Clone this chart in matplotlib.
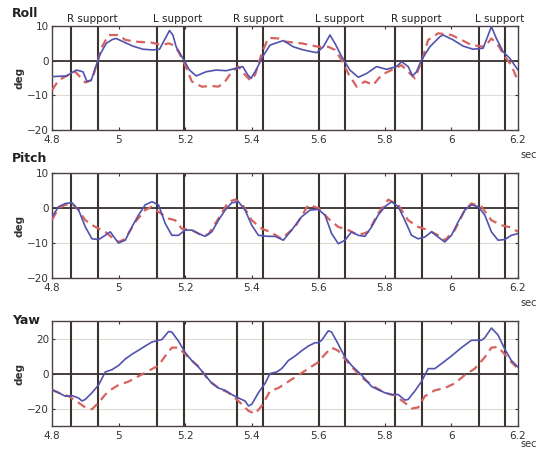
import numpy as np
import matplotlib
matplotlib.use('Agg')
import matplotlib.pyplot as plt

# support phase boundaries (sec)
events = [4.857, 4.937, 5.114, 5.196, 5.356, 5.434, 5.602, 5.679, 5.830, 5.910, 6.083, 6.161]
labels = ['R support', 'L support', 'R support', 'L support', 'R support', 'L support']

# Roll
roll_t_b = [4.80, 4.843, 4.873, 4.893, 4.905, 4.918, 4.933, 4.943, 4.963, 4.983, 4.993, 5.013, 5.043, 5.073,
            5.103, 5.123, 5.138, 5.153, 5.163, 5.173, 5.193, 5.213, 5.233, 5.263, 5.293, 5.323, 5.353, 5.373,
            5.388, 5.398, 5.413, 5.433, 5.455, 5.495, 5.525, 5.555, 5.595, 5.615, 5.635, 5.65, 5.67, 5.695,
            5.72, 5.745, 5.775, 5.805, 5.835, 5.85, 5.87, 5.883, 5.895, 5.91, 5.935, 5.965, 5.975, 6.005,
            6.035, 6.065, 6.095, 6.12, 6.135, 6.155, 6.175, 6.2]
roll_b = [-4.6, -4.4, -2.7, -3.2, -6.0, -5.6, -1.3, 1.6, 5.0, 6.2, 6.4, 5.5, 4.2, 3.3,
          3.1, 3.3, 6.0, 8.7, 7.4, 4.0, 0.7, -2.7, -4.4, -3.2, -2.7, -2.9, -2.2, -1.7,
          -4.1, -5.1, -2.7, 1.2, 4.5, 5.8, 4.0, 3.1, 2.3, 4.0, 7.4, 5.0, 1.2, -2.7,
          -4.8, -3.7, -1.7, -2.5, -1.7, -0.3, -1.7, -4.4, -3.2, 0.2, 4.0, 6.9, 7.4, 6.0,
          4.2, 3.3, 3.6, 9.8, 6.4, 2.6, 0.7, -2.7]
roll_t_r = [4.80, 4.82, 4.85, 4.87, 4.90, 4.92, 4.935, 4.95, 4.97, 5.00, 5.02, 5.05, 5.10, 5.13, 5.15, 5.165,
            5.18, 5.20, 5.22, 5.25, 5.28, 5.30, 5.32, 5.34, 5.36, 5.38, 5.395, 5.41, 5.43, 5.45, 5.48,
            5.50, 5.55, 5.60, 5.63, 5.65, 5.67, 5.69, 5.715, 5.74, 5.765, 5.79, 5.82, 5.85, 5.87, 5.89,
            5.91, 5.93, 5.96, 6.00, 6.03, 6.06, 6.10, 6.12, 6.14, 6.16, 6.18, 6.20]
roll_r = [-8.5, -5.6, -4.1, -3.2, -6.3, -5.6, -0.8, 4.0, 7.4, 7.4, 6.0, 5.5, 5.2, 4.5, 5.0, 4.5,
          2.6, -1.3, -6.0, -7.5, -7.3, -7.5, -6.0, -3.2, -1.7, -4.1, -5.6, -4.1, 2.1, 6.6, 6.4,
          5.5, 5.0, 4.0, 4.0, 3.1, 0.2, -3.7, -7.5, -6.0, -7.0, -4.1, -2.7, -1.3, -3.2, -5.1,
          -0.3, 6.0, 7.9, 7.4, 6.0, 4.5, 4.0, 6.4, 4.5, 1.2, -1.3, -6.0]

# Pitch
pitch_t_b = [4.80, 4.82, 4.84, 4.86, 4.88, 4.90, 4.92, 4.94, 4.96, 4.975, 4.99, 5.00, 5.02, 5.04, 5.06,
             5.08, 5.10, 5.12, 5.14, 5.16, 5.18, 5.20, 5.22, 5.24, 5.26, 5.28, 5.30, 5.32, 5.34, 5.36,
             5.38, 5.40, 5.42, 5.45, 5.47, 5.495, 5.52, 5.55, 5.575, 5.60, 5.62, 5.64, 5.66, 5.68, 5.70,
             5.72, 5.74, 5.76, 5.78, 5.80, 5.82, 5.84, 5.86, 5.88, 5.90, 5.92, 5.94, 5.96, 5.98, 6.00,
             6.02, 6.04, 6.06, 6.08, 6.10, 6.12, 6.14, 6.16, 6.18, 6.20]
pitch_b = [-2.5, 0.4, 1.3, 1.5, -0.6, -5.4, -8.8, -9.0, -7.8, -6.8, -8.8, -10.0, -9.2, -5.4, -2.0,
           0.9, 1.8, 0.9, -4.4, -7.8, -7.8, -6.3, -6.3, -7.3, -8.1, -6.8, -3.5, -0.6, 1.5, 1.8,
           -0.6, -4.9, -7.8, -8.1, -8.1, -9.2, -6.3, -2.5, -0.6, -0.4, -2.0, -7.3, -10.2, -9.2, -6.8,
           -7.8, -8.1, -5.4, -2.0, 0.4, 1.8, 0.4, -3.5, -7.8, -8.8, -8.3, -6.8, -8.3, -9.7, -7.8,
           -4.0, -0.6, 0.9, 0.4, -2.0, -6.8, -9.2, -9.0, -7.8, -7.3]
pitch_t_r = [4.80, 4.82, 4.84, 4.86, 4.88, 4.90, 4.93, 4.96, 4.98, 5.00, 5.02, 5.05, 5.08, 5.10, 5.12,
             5.15, 5.17, 5.19, 5.22, 5.25, 5.27, 5.30, 5.33, 5.35, 5.37, 5.40, 5.43, 5.455, 5.49, 5.53,
             5.57, 5.60, 5.63, 5.66, 5.69, 5.72, 5.75, 5.78, 5.81, 5.84, 5.87, 5.90, 5.93, 5.96, 5.98,
             6.01, 6.04, 6.06, 6.09, 6.12, 6.15, 6.18, 6.20]
pitch_r = [-3.4, 0.0, 0.9, 1.2, -0.6, -3.5, -5.4, -6.8, -8.4, -9.7, -8.8, -4.0, -0.6, 0.4, -1.1,
           -3.0, -3.5, -5.9, -6.3, -7.8, -7.5, -3.0, 1.8, 2.4, 1.3, -3.5, -5.9, -6.8, -8.8, -5.4,
           0.9, 0.0, -3.0, -5.4, -6.3, -7.8, -6.8, -1.5, 2.4, 0.9, -3.5, -5.4, -6.3, -7.8, -9.2,
           -6.3, -0.6, 1.3, 0.4, -3.5, -4.9, -5.6, -6.8]

# Yaw
yaw_t_b = [4.80, 4.82, 4.84, 4.86, 4.88, 4.89, 4.90, 4.92, 4.94, 4.96, 4.98, 5.00, 5.02, 5.04, 5.06,
           5.08, 5.10, 5.12, 5.13, 5.15, 5.16, 5.18, 5.20, 5.22, 5.24, 5.26, 5.28, 5.30, 5.32, 5.34,
           5.36, 5.38, 5.39, 5.40, 5.42, 5.44, 5.455, 5.475, 5.49, 5.51, 5.53, 5.55, 5.57, 5.59, 5.60,
           5.61, 5.63, 5.64, 5.66, 5.68, 5.70, 5.73, 5.76, 5.78, 5.80, 5.82, 5.84, 5.86, 5.87, 5.89,
           5.91, 5.93, 5.95, 5.97, 6.00, 6.03, 6.06, 6.09, 6.10, 6.12, 6.14, 6.16, 6.18, 6.20]
yaw_b = [-9.3, -11.0, -13.0, -12.6, -14.0, -15.7, -14.8, -11.0, -6.5, 0.9, 2.2, 4.6, 8.3, 11.0, 13.3,
         15.7, 18.0, 19.0, 19.4, 24.0, 23.7, 18.5, 12.0, 7.4, 3.7, -0.9, -5.6, -8.3, -9.6, -12.0,
         -14.0, -15.7, -18.5, -17.6, -11.0, -5.6, 0.0, 0.9, 2.8, 7.4, 10.0, 13.0, 15.7, 17.6, 17.6,
         19.0, 24.4, 23.7, 16.7, 9.3, 4.6, -0.9, -7.4, -9.3, -11.0, -12.0, -12.0, -15.2, -14.8, -10.0,
         -4.6, 2.8, 2.8, 5.6, 10.0, 14.8, 19.0, 19.0, 20.4, 26.0, 22.0, 14.0, 7.4, 3.7]
yaw_t_r = [4.80, 4.82, 4.85, 4.88, 4.90, 4.92, 4.94, 4.96, 4.98, 5.00, 5.03, 5.06, 5.09, 5.12, 5.14,
           5.16, 5.18, 5.20, 5.22, 5.24, 5.27, 5.30, 5.33, 5.36, 5.39, 5.41, 5.43, 5.455, 5.48, 5.51,
           5.54, 5.57, 5.60, 5.62, 5.64, 5.66, 5.68, 5.71, 5.74, 5.77, 5.80, 5.83, 5.86, 5.88, 5.90,
           5.92, 5.95, 5.98, 6.01, 6.04, 6.07, 6.10, 6.12, 6.14, 6.16, 6.18, 6.20]
yaw_r = [-9.3, -11.0, -13.0, -16.7, -19.4, -20.4, -16.7, -12.0, -8.9, -6.5, -4.6, -1.5, 1.5, 4.6, 10.0,
         14.8, 14.8, 11.0, 7.4, 4.0, -3.7, -8.3, -11.0, -15.7, -21.3, -23.0, -18.5, -10.0, -8.3, -4.6,
         -0.9, 2.8, 6.5, 11.0, 14.8, 13.0, 8.3, 1.9, -3.7, -7.8, -11.0, -12.6, -16.7, -20.0, -19.4,
         -13.0, -9.6, -8.3, -5.6, -0.9, 2.8, 9.3, 14.8, 15.2, 11.0, 6.5, 2.8]

blue = '#5052ae'
red = '#d8625e'
dark = '#3b3232'

fig = plt.figure(figsize=(5.39, 4.5), dpi=100)
# name, axes rect, title y (fig fraction), data, y range, y ticks
panels = [
    ('Roll', [0.0965, 0.7111, 0.8646, 0.2311], 0.969, roll_t_b, roll_b, roll_t_r, roll_r, (-20, 10), [-20, -10, 0, 10]),
    ('Pitch', [0.0965, 0.3822, 0.8646, 0.2333], 0.647, pitch_t_b, pitch_b, pitch_t_r, pitch_r, (-20, 10), [-20, -10, 0, 10]),
    ('Yaw', [0.0965, 0.0533, 0.8646, 0.2333], 0.287, yaw_t_b, yaw_b, yaw_t_r, yaw_r, (-30, 30), [-20, 0, 20]),
]

for i, (name, pos, ty, tb, yb, tr, yr, ylim, yticks) in enumerate(panels):
    ax = fig.add_axes(pos)
    ax.set_xlim(4.8, 6.2)
    ax.set_ylim(*ylim)
    ax.set_yticks(yticks)
    ax.set_xticks([4.8, 5.0, 5.2, 5.4, 5.6, 5.8, 6.0, 6.2])
    ax.set_xticklabels(['4.8', '5', '5.2', '5.4', '5.6', '5.8', '6', '6.2'])
    ax.yaxis.grid(True, color='#dcdcd4', lw=0.8)
    ax.set_axisbelow(True)
    ax.axhline(0, color=dark, lw=1.3, zorder=1)
    for e in events:
        ax.axvline(e, color=dark, lw=1.5, zorder=1)
    ax.plot(tr, yr, color=red, lw=1.6, ls=(0, (4, 2.5)), zorder=3)
    ax.plot(tb, yb, color=blue, lw=1.2, zorder=4)
    ax.tick_params(direction='in', length=2.5, top=True, right=True, labelsize=7.5,
                   labelcolor='#333333', color=dark, pad=2)
    ax.tick_params(axis='x', pad=3.5)
    for s in ax.spines.values():
        s.set_color('#4a4040')
        s.set_linewidth(1.0)
    ax.set_ylabel('deg', fontsize=7.5, fontweight='bold', color='#333333', labelpad=2)
    fig.text(0.022, ty, name, fontsize=9, fontweight='bold', color='#222222', va='center')
    if i < 2:
        ax.text(1.005, -0.19, 'sec', transform=ax.transAxes, fontsize=7, color='#333333', va='top')
    else:
        # last one sits at the very bottom edge of the figure
        fig.text(0.965, 0.002, 'sec', fontsize=7, color='#333333', va='bottom')
    if i == 0:
        for k, lab in enumerate(labels):
            ax.text(events[2 * k] - 0.012, 1.02, lab, transform=ax.get_xaxis_transform(),
                    fontsize=7.5, color='#222222', va='bottom', ha='left')

fig.savefig('out.png', dpi=100)
